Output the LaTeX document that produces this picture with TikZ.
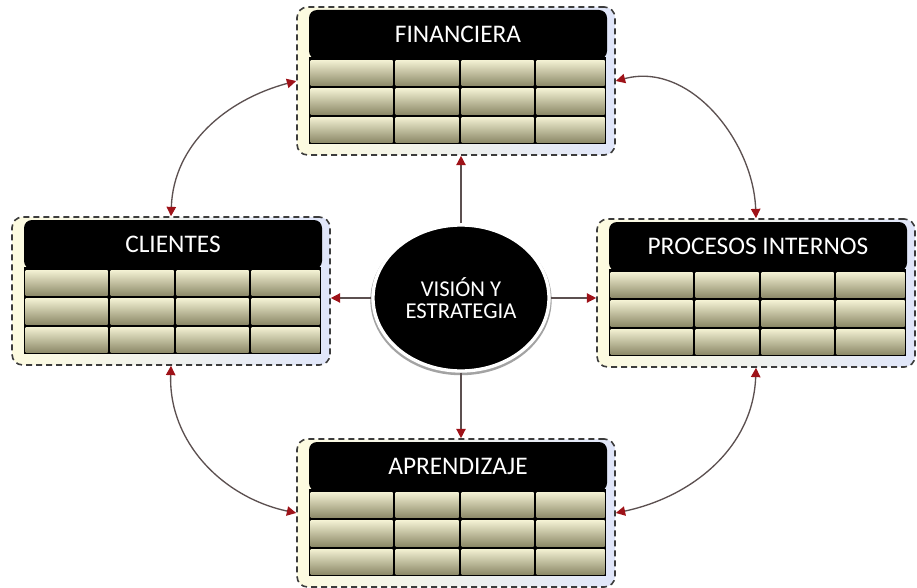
\documentclass[tikz,border=0pt]{standalone}
\usepackage{fontspec}
\setmainfont{Carlito}
\usetikzlibrary{shapes.geometric,arrows.meta,shadows}

\definecolor{celdaclara}{RGB}{242,240,210}
\definecolor{celdamedia}{RGB}{214,211,170}
\definecolor{celdaoscura}{RGB}{140,137,104}
\definecolor{marcoamarillo}{RGB}{253,251,224}
\definecolor{marcoazul}{RGB}{224,230,250}
\definecolor{lineagris}{RGB}{92,80,80}
\definecolor{puntaroja}{RGB}{158,18,24}

\tikzset{every picture/.style={line width=0.75pt}}
\tikzset{
	marco/.style={draw={rgb,255:red,60;green,60;blue,60}, line width=1.2pt, dash pattern=on 4.5pt off 3pt, rounded corners=8pt,
		left color=marcoamarillo, right color=marcoazul, minimum width=238.5pt, minimum height=111pt, inner sep=0pt},
	titulo/.style={fill=black, rounded corners=6pt, text=white, font=\fontsize{19}{22}\selectfont,
		minimum width=223.5pt, minimum height=36.75pt, inner sep=0pt},
	celda/.style={top color=celdaclara, middle color=celdamedia, bottom color=celdaoscura},
	vision/.style={ellipse, fill=black, draw=white, line width=2.5pt, minimum width=132pt, minimum height=109.5pt,
		text=white, align=center, font=\fontsize{17}{17}\selectfont,
		drop shadow={shadow xshift=0pt, shadow yshift=-1.5pt, shadow scale=1.03, fill=black!45, opacity=0.8}},
	flecha/.style={draw=lineagris, line width=1pt, -{Triangle[length=7pt,width=7pt,color=puntaroja]}},
	doble/.style={draw=lineagris, line width=1pt, {Triangle[length=7pt,width=7pt,color=puntaroja]}-{Triangle[length=7pt,width=7pt,color=puntaroja]}}
}

\begin{document}
\begin{tikzpicture}[x=0.75pt,y=0.75pt,yscale=-1,xscale=1]
	\useasboundingbox (0,0) rectangle (917,588);

	% the four tables: frame, grid of cells, black title
	\foreach \nm/\x/\y/\txt in {fin/297/7/FINANCIERA, cli/12/217/CLIENTES, pro/597/219/PROCESOS INTERNOS, apr/297/439/APRENDIZAJE}{
		\node[marco] (\nm) at (\x+159,\y+74) {};
		\fill (\x+12,\y+50) rectangle ++(297,87);
		\foreach \c/\w in {0/85,85/66,151/75,226/71}
			\foreach \r in {0,1,2}
				\shade[celda] (\x+12+\c+1.5,\y+52+\r*28.33+1.5) rectangle ++(\w-3,25.3);
		\node[titulo] (\nm-t) at (\x+161,\y+27.5) {\txt};
	}

	% centre
	\node[vision] (vis) at (461,298) {VISIÓN Y\\ESTRATEGIA};

	% straight arrows from the centre
	\draw[flecha] (vis.north) -- (vis.north |- fin.south);
	\draw[flecha] (vis.west) -- (vis.west -| cli.east);
	\draw[flecha] (vis.east) -- (vis.east -| pro.west);
	\draw[flecha] (vis.south) -- (vis.south |- apr.north);

	% curved arrows round the outside
	\draw[doble] (cli.north) to[out=-88, in=165] (fin.west);
	\draw[doble] (fin.east) to[out=-15, in=-92] (pro.north);
	\draw[doble] (cli.south) to[out=92, in=-168] (apr.west);
	\draw[doble] (pro.south) to[out=92, in=-12] (apr.east);

\end{tikzpicture}
\end{document}
